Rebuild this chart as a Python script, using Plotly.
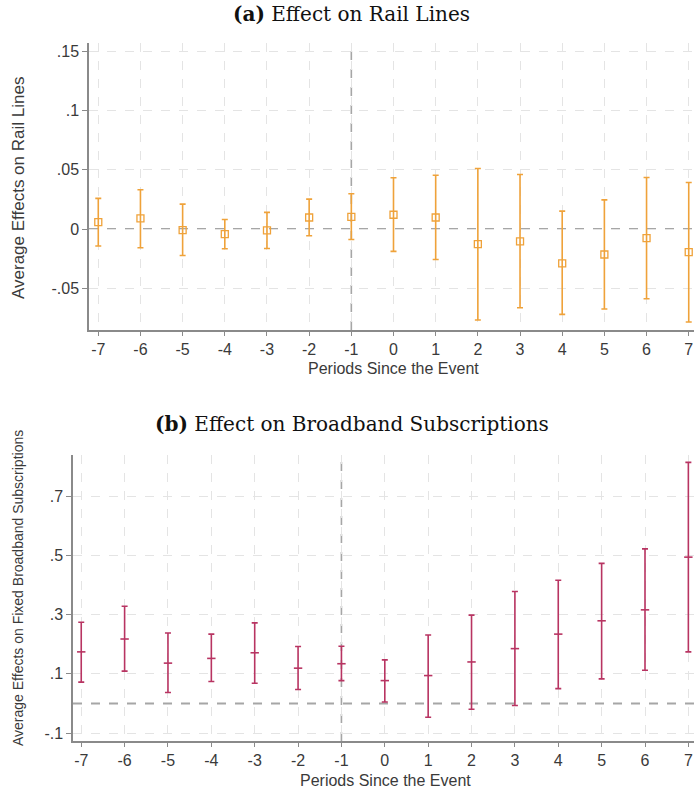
import plotly.graph_objects as go

# Event-study estimates: periods relative to the event
periods = [-7, -6, -5, -4, -3, -2, -1, 0, 1, 2, 3, 4, 5, 6, 7]

# (a) Rail lines: point estimate with confidence bounds
rail_est = [0.0059, 0.0090, -0.0008, -0.0042, -0.0011, 0.0098, 0.0104, 0.0121,
            0.0098, -0.0126, -0.0104, -0.0289, -0.0214, -0.0076, -0.0194]
rail_lo = [-0.0143, -0.0157, -0.0222, -0.0166, -0.0163, -0.0056, -0.0087, -0.0188,
           -0.0256, -0.0767, -0.0663, -0.0719, -0.0674, -0.0587, -0.0784]
rail_hi = [0.0259, 0.0332, 0.0211, 0.0081, 0.0141, 0.0253, 0.0298, 0.0433,
           0.0455, 0.0511, 0.0461, 0.0152, 0.0247, 0.0436, 0.0393]

# (b) Fixed broadband subscriptions
bb_est = [0.174, 0.2175, 0.136, 0.152, 0.171, 0.119, 0.134, 0.077,
          0.094, 0.140, 0.185, 0.234, 0.279, 0.316, 0.494]
bb_lo = [0.072, 0.109, 0.037, 0.074, 0.068, 0.047, 0.077, 0.0045,
         -0.047, -0.020, -0.007, 0.050, 0.083, 0.112, 0.174]
bb_hi = [0.274, 0.328, 0.238, 0.234, 0.272, 0.192, 0.193, 0.147,
         0.231, 0.298, 0.378, 0.416, 0.473, 0.522, 0.814]

rail_ticks = [-0.05, 0, 0.05, 0.1, 0.15]
rail_ticktext = ["-.05", "0", ".05", ".1", ".15"]
bb_ticks = [-0.1, 0.1, 0.3, 0.5, 0.7]
bb_ticktext = ["-.1", ".1", ".3", ".5", ".7"]

ORANGE = "#EFA23A"
CRIMSON = "#B83462"
AXIS = "#8a8a8a"
GRID = "#e4e4e4"
REF = "#a6a6a6"
TEXT = "#3a3a3a"

W, H = 694, 793


def px_x(p):
    return p / W


def px_y(p):
    return 1 - p / H


fig = go.Figure()

fig.add_trace(go.Scatter(
    x=periods, y=rail_est, mode="markers",
    marker=dict(symbol="square-open", size=7, color=ORANGE, line=dict(width=1.3, color=ORANGE)),
    error_y=dict(type="data", symmetric=False,
                 array=[h - e for h, e in zip(rail_hi, rail_est)],
                 arrayminus=[e - l for e, l in zip(rail_est, rail_lo)],
                 color=ORANGE, thickness=1.6, width=3),
    xaxis="x", yaxis="y", showlegend=False,
))

fig.add_trace(go.Scatter(
    x=periods, y=bb_est, mode="markers",
    marker=dict(symbol="line-ew", size=6, color=CRIMSON, line=dict(width=1.6, color=CRIMSON)),
    error_y=dict(type="data", symmetric=False,
                 array=[h - e for h, e in zip(bb_hi, bb_est)],
                 arrayminus=[e - l for e, l in zip(bb_est, bb_lo)],
                 color=CRIMSON, thickness=1.6, width=3),
    xaxis="x2", yaxis="y2", showlegend=False,
))

tickfont = dict(family="Liberation Sans, Arial, sans-serif", size=16, color=TEXT)

common_x = dict(
    tickmode="array", tickvals=periods, ticktext=[str(p) for p in periods],
    showline=True, linecolor=AXIS, linewidth=1.5,
    ticks="outside", ticklen=4, tickcolor=AXIS, tickwidth=1.2,
    showgrid=True, gridcolor=GRID, griddash="dash", gridwidth=1,
    zeroline=False, tickfont=tickfont,
)
common_y = dict(
    tickmode="array",
    showline=True, linecolor=AXIS, linewidth=1.5,
    ticks="outside", ticklen=5, tickcolor=AXIS, tickwidth=1.2,
    showgrid=True, gridcolor=GRID, griddash="dash", gridwidth=1,
    zeroline=False, tickfont=tickfont,
)

top_y0, top_y1 = 43, 330
bot_y0, bot_y1 = 455, 741

fig.update_layout(
    width=W, height=H,
    margin=dict(l=0, r=0, t=0, b=0),
    paper_bgcolor="white", plot_bgcolor="white",
    xaxis=dict(common_x, domain=[px_x(89), 1], range=[-7.22, 7.125], anchor="y"),
    yaxis=dict(common_y, domain=[px_y(top_y1), px_y(top_y0)], range=[-0.0851, 0.157],
               tickvals=rail_ticks, ticktext=rail_ticktext, anchor="x"),
    xaxis2=dict(common_x, domain=[px_x(73), 1], range=[-7.19, 7.13], anchor="y2"),
    yaxis2=dict(common_y, domain=[px_y(bot_y1), px_y(bot_y0)], range=[-0.127, 0.839],
                tickvals=bb_ticks, ticktext=bb_ticktext, anchor="x2"),
    shapes=[
        dict(type="line", xref="x domain", yref="y", x0=0, x1=1, y0=0, y1=0,
             line=dict(color=REF, width=2, dash="dash"), layer="below"),
        dict(type="line", xref="x", yref="y domain", x0=-1, x1=-1, y0=0, y1=1,
             line=dict(color=REF, width=1.6, dash="dash"), layer="below"),
        dict(type="line", xref="x2 domain", yref="y2", x0=0, x1=1, y0=0, y1=0,
             line=dict(color=REF, width=2, dash="dash"), layer="below"),
        dict(type="line", xref="x2", yref="y2 domain", x0=-1, x1=-1, y0=0, y1=1,
             line=dict(color=REF, width=1.6, dash="dash"), layer="below"),
    ],
)

serif = dict(family="DejaVu Serif, Liberation Serif, serif", size=20, color="#111111")
sans = "Liberation Sans, Arial, sans-serif"

annotations = [
    dict(text="<b>(a)</b> Effect on Rail Lines", x=px_x(351), y=px_y(14),
         font=serif),
    dict(text="<b>(b)</b> Effect on Broadband Subscriptions", x=px_x(352), y=px_y(424),
         font=serif),
    dict(text="Periods Since the Event", x=px_x(393), y=px_y(368),
         font=dict(family=sans, size=16, color=TEXT)),
    dict(text="Periods Since the Event", x=px_x(385), y=px_y(780),
         font=dict(family=sans, size=16, color=TEXT)),
    dict(text="Average Effects on Rail Lines", x=px_x(18), y=px_y(188), textangle=-90,
         font=dict(family=sans, size=17, color=TEXT)),
    dict(text="Average Effects on Fixed Broadband Subscriptions", x=px_x(18), y=px_y(588),
         textangle=-90, font=dict(family=sans, size=14, color=TEXT)),
]
for a in annotations:
    a.update(xref="paper", yref="paper", showarrow=False, xanchor="center", yanchor="middle")
fig.update_layout(annotations=annotations)

fig.write_html("out.html")
